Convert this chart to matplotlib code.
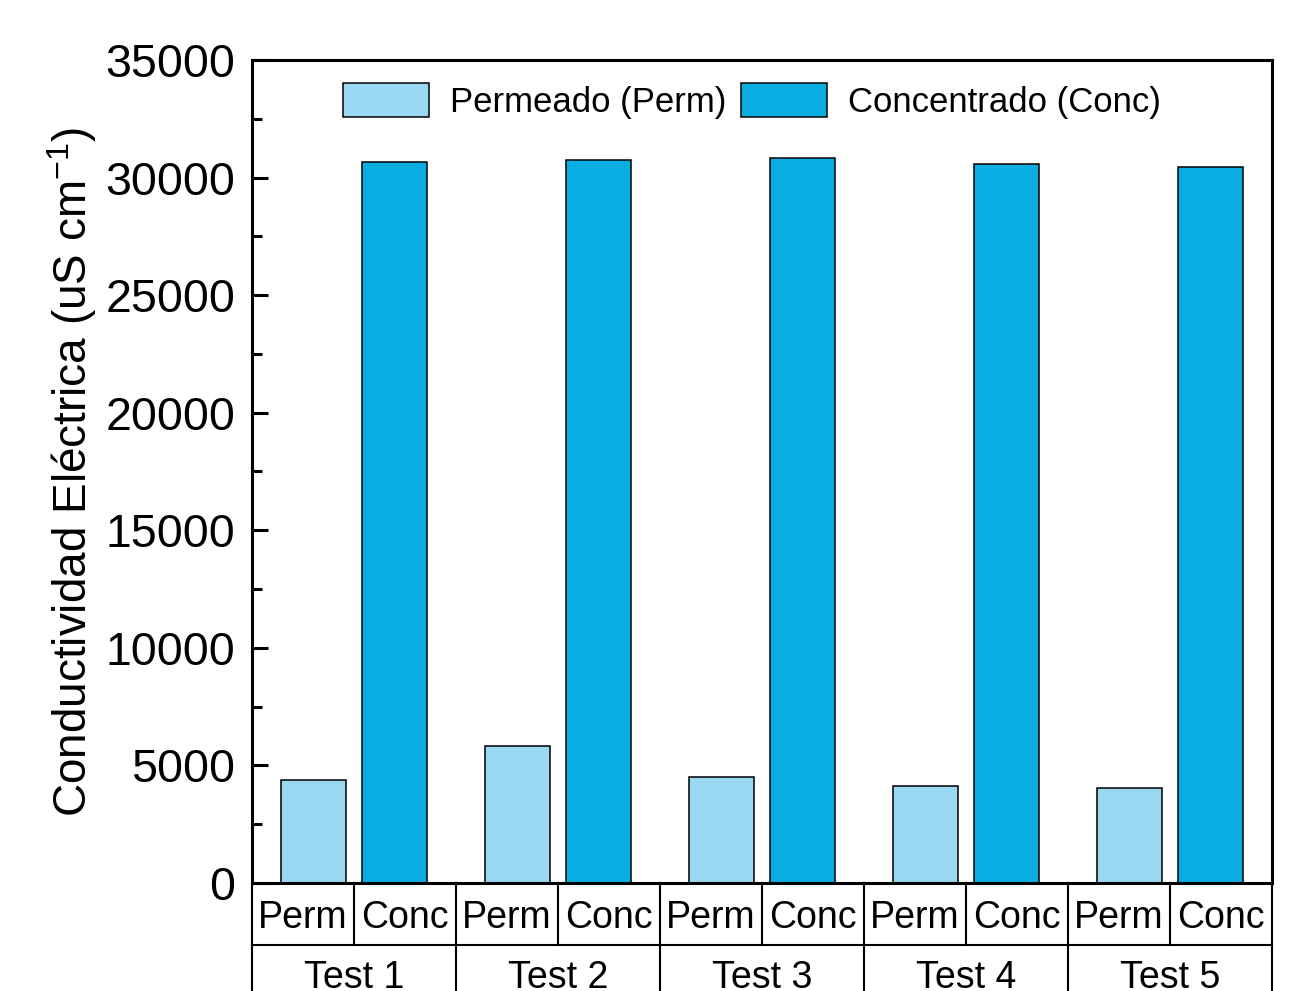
import matplotlib.pyplot as plt
import matplotlib.ticker as ticker
import matplotlib.transforms as transforms

plt.rcParams['font.family'] = ['Liberation Sans', 'DejaVu Sans']
plt.rcParams['mathtext.default'] = 'regular'

tests = ['Test 1', 'Test 2', 'Test 3', 'Test 4', 'Test 5']
kinds = ['Perm', 'Conc']
perm = [4380, 5830, 4510, 4120, 4040]
conc = [30660, 30750, 30830, 30580, 30450]

perm_color = '#9AD7F1'
conc_color = '#08AEE2'

fig = plt.figure(figsize=(12.93, 9.91), dpi=100)
ax = fig.add_axes([0.1949, 0.1090, 0.7889, 0.8305])

# each test takes two slots on the x axis, group centres at 1, 3, 5, ...
centers = [2 * i + 1 for i in range(len(tests))]
ax.bar([c - 0.4 for c in centers], perm, width=0.64, color=perm_color,
       edgecolor='black', linewidth=1.1, label='Permeado (Perm)', zorder=2)
ax.bar([c + 0.4 for c in centers], conc, width=0.64, color=conc_color,
       edgecolor='black', linewidth=1.1, label='Concentrado (Conc)', zorder=2)

ax.set_xlim(0, 2 * len(tests))
ax.set_ylim(0, 35000)
ax.yaxis.set_major_locator(ticker.MultipleLocator(5000))
ax.yaxis.set_minor_locator(ticker.MultipleLocator(2500))
ax.tick_params(axis='y', which='major', direction='in', length=11.5, width=2.2,
               labelsize=33.5, pad=12)
ax.tick_params(axis='y', which='minor', direction='in', length=7, width=2.2)
ax.tick_params(axis='x', which='both', bottom=False, labelbottom=False)
for s in ax.spines.values():
    s.set_linewidth(2.2)

ax.set_ylabel('Conductividad Eléctrica (uS cm$^{\u2212 1}$)', fontsize=33, labelpad=5)

ax.legend(loc='center', bbox_to_anchor=(0.49, 0.95), ncol=2, frameon=False,
          fontsize=25, handlelength=2.5, handleheight=1.1, handletextpad=0.6,
          columnspacing=0.4, borderpad=0)

# two-row category table under the axis
trans = transforms.blended_transform_factory(ax.transData, ax.transAxes)
row1 = -0.0753
bottom = -0.15
for i in range(2 * len(tests) + 1):
    ax.plot([i, i], [0, row1], color='black', lw=1.5, transform=trans, clip_on=False)
for i in range(0, 2 * len(tests) + 1, 2):
    ax.plot([i, i], [row1, bottom], color='black', lw=1.5, transform=trans, clip_on=False)
ax.plot([0, 2 * len(tests)], [row1, row1], color='black', lw=1.5,
        transform=trans, clip_on=False)

for i, c in enumerate(centers):
    ax.text(c - 0.5, -0.0547, kinds[0], transform=trans, ha='center',
            va='baseline', fontsize=27)
    ax.text(c + 0.5, -0.0547, kinds[1], transform=trans, ha='center',
            va='baseline', fontsize=27)
    ax.text(c, -0.128, tests[i], transform=trans, ha='center',
            va='baseline', fontsize=27)

plt.savefig('out.png', dpi=100)
